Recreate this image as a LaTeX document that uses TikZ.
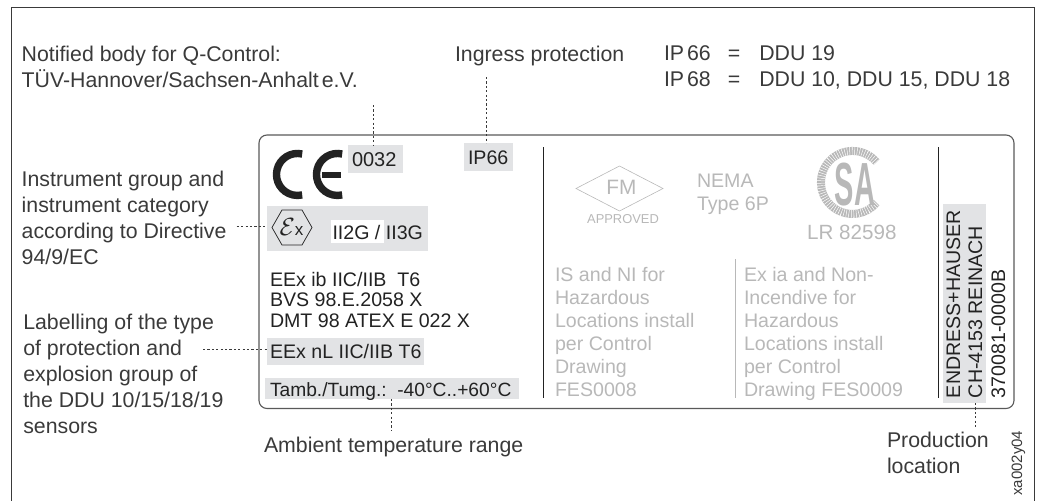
\documentclass[tikz,border=0pt]{standalone}
\usepackage{fontspec}
\setmainfont{Liberation Sans}
\usetikzlibrary{positioning}

\definecolor{labeltxt}{HTML}{3A3A3A}
\definecolor{platetxt}{HTML}{222222}
\definecolor{faint}{HTML}{B8B8B8}
\definecolor{marked}{HTML}{E2E3E5}

\tikzset{
	lbl/.style={inner sep=0pt,outer sep=0pt,align=left,anchor=north west,text=labeltxt,font=\fontsize{21.3}{25.8}\selectfont},
	plate/.style={inner sep=0pt,outer sep=0pt,anchor=base west,text=platetxt,font=\fontsize{19.6}{22}\selectfont},
	off/.style={inner sep=0pt,outer sep=0pt,align=left,anchor=north west,text=faint,font=\fontsize{19.6}{22.9}\selectfont},
	greybox/.style={fill=marked,draw=none,inner sep=0pt,outer sep=0pt,anchor=north west},
	leader/.style={draw=labeltxt,line width=.8pt,dash pattern=on 2.2pt off 2.2pt},
}

\begin{document}
\begin{tikzpicture}[x=1pt,y=-1pt,font=\fontsize{21.3}{25.8}\selectfont]
	\useasboundingbox (0,0) rectangle (1037,501);

	% frame and plate
	\draw[line width=1pt,labeltxt] (11,501) -- (11,7) -- (1034,7) -- (1034,501);
	\draw[line width=1.1pt,draw=black!65,rounded corners=8pt] (259,135) rectangle (1014,408.5);

	% marked fields
	\node [greybox,minimum width=55pt,minimum height=28pt] at (348,145) (box_ce) {};
	\node [greybox,minimum width=49pt,minimum height=28pt] at (464,143) (box_ip) {};
	\node [greybox,minimum width=161pt,minimum height=45pt] at (267,206) (box_ex) {};
	\node [greybox,fill=white,minimum width=53pt,minimum height=23pt] at (331,220) (box_cat) {};
	\node [greybox,minimum width=157pt,minimum height=27pt] at (267,338) (box_nl) {};
	\node [greybox,minimum width=254pt,minimum height=21pt] at (265,378) (box_tamb) {};
	\node [greybox,minimum width=43pt,minimum height=199pt] at (943,204) (box_maker) {};

	% separators
	\coordinate (sep1_a) at (543,147);
	\coordinate (sep1_b) at (543,398);
	\coordinate (sep2_a) at (938,147);
	\coordinate (sep2_b) at (938,398);
	\coordinate (sep3_a) at (735,259);
	\coordinate (sep3_b) at (735,398);
	\draw[line width=.9pt,platetxt] (sep1_a) -- (sep1_b);
	\draw[line width=.9pt,platetxt] (sep2_a) -- (sep2_b);
	\draw[line width=.7pt,faint] (sep3_a) -- (sep3_b);

	% CE mark
	\draw[line width=7.4pt,platetxt] (302.2,154) arc[start angle=-77,end angle=-283,radius=21];
	\draw[line width=7.4pt,platetxt] (342.2,154) arc[start angle=-77,end angle=-283,radius=21];
	\draw[line width=6pt,platetxt] (322,174.5) -- (341,174.5);
	\node [plate,font=\fontsize{20}{22}\selectfont] at (352,166) (ce_no) {0032};
	\node [plate] at (468,164) (ip_no) {IP66};

	% Ex mark
	\draw[line width=.7pt,platetxt] (272,227.5) -- (282,210) -- (302,210) -- (312,227.5) -- (302,245) -- (282,245) -- cycle;
	\node [inner sep=0pt,text=platetxt,font=\fontsize{24}{24}\selectfont] at (291.5,227) (ex_sign) {$\mathcal{E}$\fontsize{17}{17}\selectfont x};
	\node [plate] at (332.5,239) (cat_txt) {II2G / II3G};

	% left column of the plate
	\node [plate] at (270,286) (eex_ib) {EEx ib IIC/IIB\ \ T6};
	\node [plate] at (270,306) (bvs) {BVS 98.E.2058 X};
	\node [plate] at (270,327) (dmt) {DMT 98 ATEX E 022 X};
	\node [plate] at (270,358) (eex_nl) {EEx nL IIC/IIB T6};
	\node [plate,font=\fontsize{19.2}{22}\selectfont] at (270,396) (tamb) {Tamb./Tumg.:\ \ -40°C..+60°C};

	% FM, NEMA, CSA
	\draw[line width=.6pt,faint] (576,188.5) -- (619.5,166) -- (663,188.5) -- (619.5,211) -- cycle;
	\node [inner sep=0pt,text=faint,font=\fontsize{20.8}{21}\selectfont] at (621.5,187.5) (fm) {FM};
	\node [inner sep=0pt,text=faint,font=\fontsize{12.9}{13}\selectfont] at (623,219.5) (fm_appr) {APPROVED};
	\node [off] at (697,174) (nema) {NEMA\\Type 6P};
	\draw[line width=8pt,faint] (876.6,162.2) arc[start angle=-40,end angle=-320,radius=31.5];
	\draw[line width=8pt,white,dash pattern=on .5pt off 2pt] (876.6,162.2) arc[start angle=-40,end angle=-320,radius=31.5];
	\node [inner sep=0pt,text=faint,font=\fontsize{29}{29}\selectfont\bfseries,yscale=2.1,transform shape] at (855,184.5) (csa) {SA};
	\node [inner sep=0pt,anchor=base west,text=faint,font=\fontsize{20.6}{22}\selectfont] at (807,239) (lr) {LR 82598};

	% faint columns
	\node [off] at (555,267.7) (is_ni) {IS and NI for\\Hazardous\\Locations install\\per Control\\Drawing\\FES0008};
	\node [off] at (744,267.7) (ex_ia) {Ex ia and Non-\\Incendive for\\Hazardous\\Locations install\\per Control\\Drawing FES0009};

	% maker, turned
	\node [plate,rotate=90] at (960,398) (maker1) {ENDRESS+HAUSER};
	\node [plate,rotate=90] at (982,398) (maker2) {CH-4153 REINACH};
	\node [plate,rotate=90] at (1005,398) (maker3) {370081-0000B};

	% texts round the plate
	\node [lbl] at (21.7,46.5) (notified) {Notified body for Q-Control:\\TÜV-Hannover/Sachsen-Anhalt\hspace{3pt}e.V.};
	\node [lbl] at (455,45.8) (ingress) {Ingress protection};
	\node [lbl] at (664,45.7) (ip66) {IP\hspace{3pt}66};
	\node [lbl,base right=17pt of ip66] (eq66) {=};
	\node [lbl,base right=19pt of eq66] (ddu66) {DDU 19};
	\node [lbl] at (664,71.4) (ip68) {IP\hspace{3pt}68};
	\node [lbl,base right=17pt of ip68] (eq68) {=};
	\node [lbl,base right=19pt of eq68] (ddu68) {DDU 10, DDU 15, DDU 18};
	\node [lbl] at (21.7,171.5) (instr) {Instrument group and\\instrument category\\according to Directive\\94/9/EC};
	\node [lbl] at (23.3,314.5) (type) {Labelling of the type\\of protection and\\explosion group of\\the DDU 10/15/18/19\\sensors};
	\node [lbl] at (264,437.5) (ambient) {Ambient temperature range};
	\node [lbl] at (887,432.5) (prod) {Production\\location};
	\node [inner sep=0pt,rotate=90,anchor=base west,text=labeltxt,font=\fontsize{15}{15}\selectfont] at (1022,496) (docno) {xa002y04};

	% leaders
	\coordinate (l_not) at (373,105);
	\coordinate (l_not_e) at (373,145);
	\coordinate (l_ing) at (486,77);
	\coordinate (l_ing_e) at (486,143);
	\coordinate (l_ex) at (236.7,226.7);
	\coordinate (l_ex_e) at (267,226.7);
	\coordinate (l_nl) at (203,349);
	\coordinate (l_nl_e) at (267,349);
	\coordinate (l_tamb) at (391,399);
	\coordinate (l_tamb_e) at (391,430);
	\coordinate (l_prod) at (975.5,403);
	\coordinate (l_prod_e) at (975.5,428);
	\draw[leader] (l_not) -- (l_not_e);
	\draw[leader] (l_ing) -- (l_ing_e);
	\draw[leader] (l_ex) -- (l_ex_e);
	\draw[leader] (l_nl) -- (l_nl_e);
	\draw[leader] (l_tamb) -- (l_tamb_e);
	\draw[leader] (l_prod) -- (l_prod_e);
\end{tikzpicture}
\end{document}
